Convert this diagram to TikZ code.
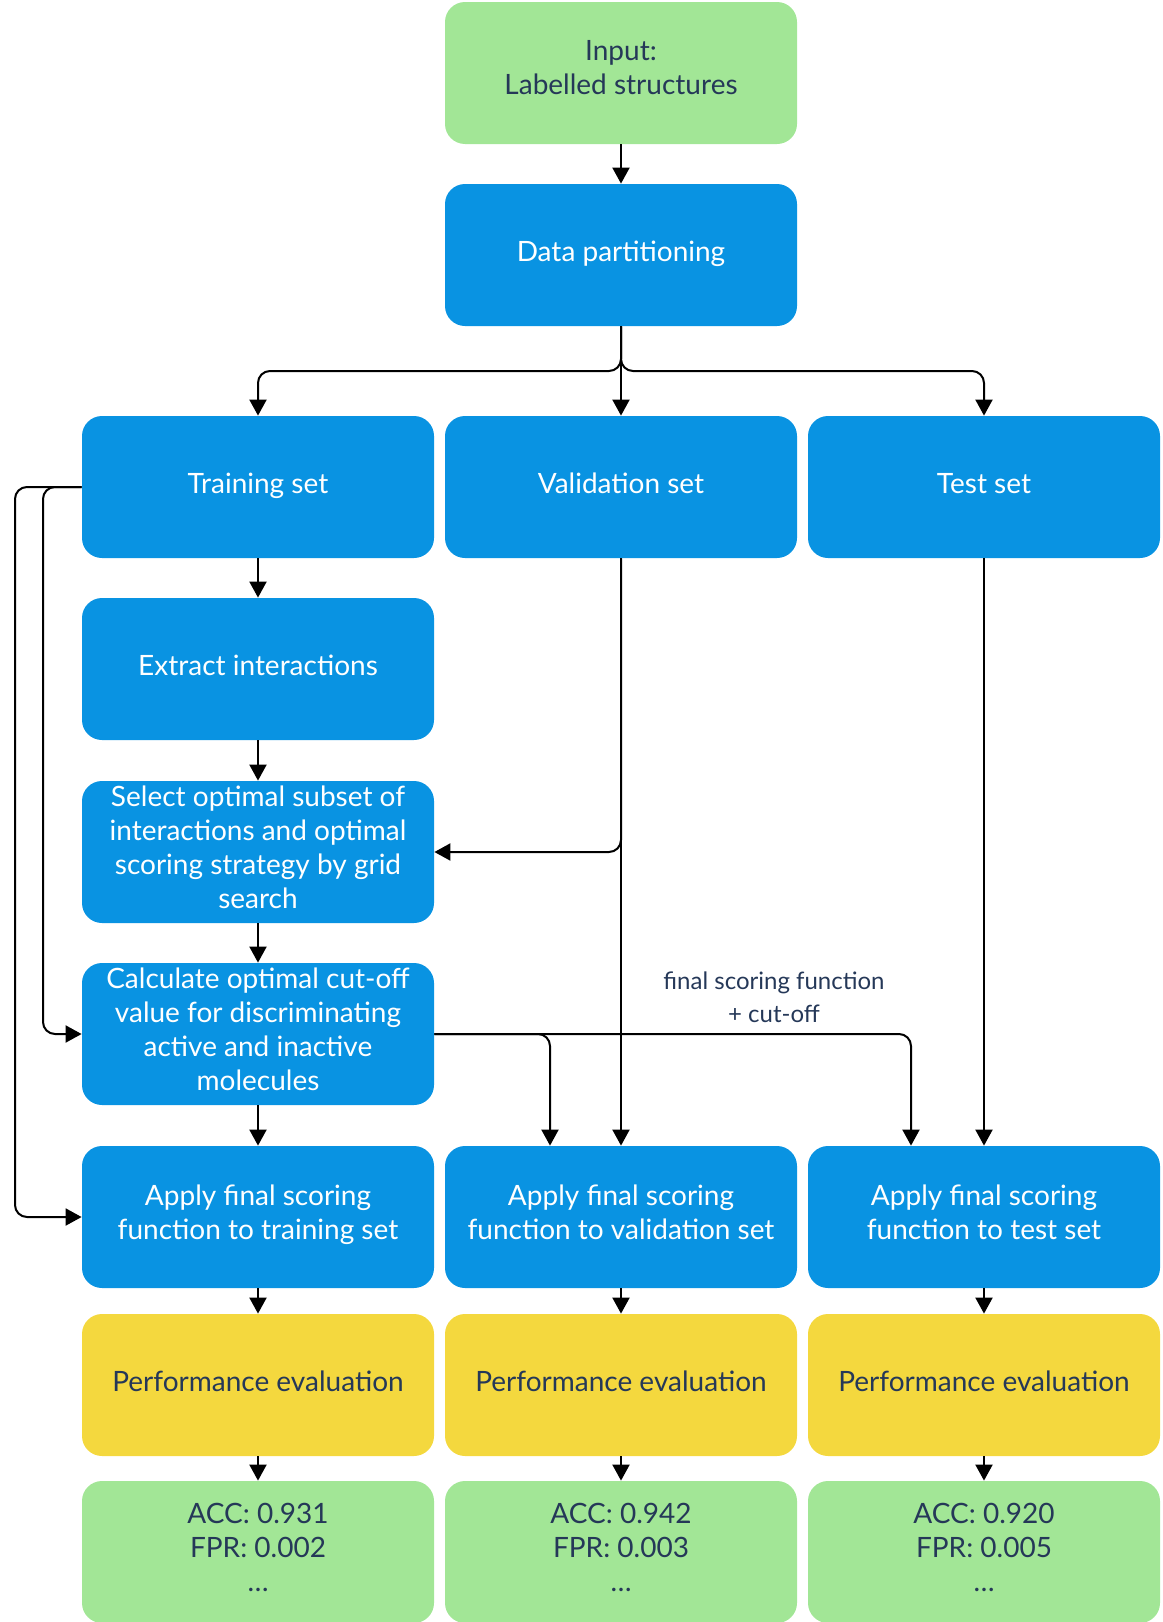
\documentclass[tikz,border=0pt]{standalone}
\usepackage{fontspec}
\setmainfont{Lato}
\usetikzlibrary{arrows.meta}
\definecolor{boxblue}{RGB}{9,147,226}
\definecolor{boxgreen}{RGB}{162,230,150}
\definecolor{boxyellow}{RGB}{244,216,62}
\definecolor{navy}{RGB}{37,56,88}
\tikzset{
	stage/.style={rounded corners=10pt, minimum width=176pt, minimum height=71pt, inner sep=0pt, align=center, font=\fontsize{14}{17}\selectfont, execute at begin node=\strut, execute at end node=\strut},
	bluebox/.style={stage, fill=boxblue, text=white},
	greenbox/.style={stage, fill=boxgreen, text=navy},
	yellowbox/.style={stage, fill=boxyellow, text=navy},
	flow/.style={-{Triangle[length=8pt,width=8.5pt]}, line width=1pt, rounded corners=6pt}
}
\begin{document}
\begin{tikzpicture}[x=0.5pt,y=-0.5pt]
		\useasboundingbox (0,0) rectangle (1162,1622);
		
		%Input and partitioning
		\node[greenbox] (inp) at (621,73) {Input:\\Labelled structures};
		\node[bluebox] (part) at (621,255) {Data partitioning};
		\draw[flow] (inp) -- (part);
		
		%The three sets
		\node[bluebox] (train) at (258,487) {Training set};
		\node[bluebox] (valid) at (621,487) {Validation set};
		\node[bluebox] (test) at (984,487) {Test set};
		\coordinate (split) at (621,371);
		\draw[flow] (part) -- (valid);
		\draw[flow] (part.south) -- (split) -| (train.north);
		\draw[flow] (part.south) -- (split) -| (test.north);
		
		%Training steps
		\node[bluebox] (extract) at (258,669) {Extract interactions};
		\node[bluebox] (select) at (258,852) {Select optimal subset of\\interactions and optimal\\scoring strategy by grid\\search};
		\node[bluebox] (calc) at (258,1034) {Calculate optimal cut-off\\value for discriminating\\active and inactive\\molecules};
		\draw[flow] (train) -- (extract);
		\draw[flow] (extract) -- (select);
		\draw[flow] (select) -- (calc);
		
		%Training column
		\def\x{258}
		\node[bluebox] (applyT) at (\x,1217) {Apply final scoring\\function to training set};
		\node[yellowbox] (perfT) at (\x,1385) {Performance evaluation};
		\node[greenbox] (resT) at (\x,1552) {ACC: 0.931\\FPR: 0.002\\\ldots};
		\draw[flow] (calc) -- (applyT);
		\draw[flow] (applyT) -- (perfT);
		\draw[flow] (perfT) -- (resT);
		
		%Validation column
		\def\x{621}
		\node[bluebox] (applyV) at (\x,1217) {Apply final scoring\\function to validation set};
		\node[yellowbox] (perfV) at (\x,1385) {Performance evaluation};
		\node[greenbox] (resV) at (\x,1552) {ACC: 0.942\\FPR: 0.003\\\ldots};
		\draw[flow] (applyV) -- (perfV);
		\draw[flow] (perfV) -- (resV);
		
		%Test column
		\def\x{984}
		\node[bluebox] (applyX) at (\x,1217) {Apply final scoring\\function to test set};
		\node[yellowbox] (perfX) at (\x,1385) {Performance evaluation};
		\node[greenbox] (resX) at (\x,1552) {ACC: 0.920\\FPR: 0.005\\\ldots};
		\draw[flow] (applyX) -- (perfX);
		\draw[flow] (perfX) -- (resX);
		
		%Feedback lines on the left
		\draw[flow] (train.west) -- (43,487) |- (calc.west);
		\draw[flow] (train.west) -- (15,487) |- (applyT.west);
		
		%Validation and test lines
		\draw[flow] (valid) -- (applyV);
		\draw[flow] (valid.south) |- (select.east);
		\draw[flow] (test) -- (applyX);
		
		%Final scoring function
		\draw[flow] (calc.east) -| ([xshift=-35.5pt]applyV.north);
		\draw[flow] (calc.east) -| ([xshift=-36.5pt]applyX.north);
		\node[text=navy, align=center, font=\fontsize{12}{16.5}\selectfont] (lbl) at (774,997) {final scoring function\\+ cut-off};
		
	\end{tikzpicture}
\end{document}
